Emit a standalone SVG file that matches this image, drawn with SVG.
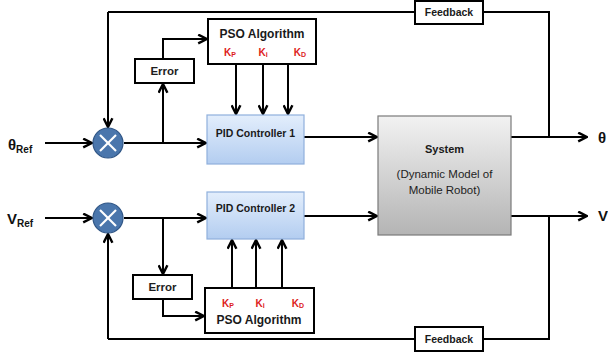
<svg xmlns="http://www.w3.org/2000/svg" width="608" height="353" viewBox="0 0 608 353">
<defs>
<linearGradient id="gBlue" x1="0" y1="0" x2="0" y2="1">
<stop offset="0" stop-color="#e3eefc"/>
<stop offset="1" stop-color="#b3cdf0"/>
</linearGradient>
<linearGradient id="gGray" x1="0" y1="0" x2="0" y2="1">
<stop offset="0" stop-color="#f2f2f2"/>
<stop offset="1" stop-color="#b4b4b4"/>
</linearGradient>
<marker id="arr" viewBox="0 0 10 10" refX="9" refY="5" markerWidth="5.5" markerHeight="5.5" markerUnits="strokeWidth" orient="auto">
<polyline points="1,1 9,5 1,9" fill="none" stroke="#000" stroke-width="2.2" stroke-linejoin="miter"/>
</marker>
</defs>
<style>
.ln{fill:none;stroke:#000;stroke-width:2}
.ar{fill:none;stroke:#000;stroke-width:2;marker-end:url(#arr)}
.box{fill:#fff;stroke:#000;stroke-width:2}
.pid{fill:url(#gBlue);stroke:#8fb0dc;stroke-width:1.2}
.sys{fill:url(#gGray);stroke:#7a7a7a;stroke-width:1.2}
.t{font-family:"Liberation Sans",Arial,sans-serif;font-weight:bold;fill:#1a1a1a;text-anchor:middle}
.n{font-family:"Liberation Sans",Arial,sans-serif;fill:#1e1e1e;text-anchor:middle;font-size:11.5px}
.k{font-family:"Liberation Sans",Arial,sans-serif;font-weight:bold;fill:#dd1c1c;font-size:10px;text-anchor:middle}
.big{font-family:"Liberation Sans",Arial,sans-serif;font-weight:bold;fill:#111;font-size:15px}
.sub{font-size:10px}
.sumc{fill:#4a76ac;stroke:#2f5585;stroke-width:1.2}
.x{stroke:#fff;stroke-width:2.2}
</style>

<g id="connectors">
<polyline class="ln" points="549,137 549,12 108,12"/>
<line class="ar" x1="108" y1="12" x2="108" y2="127"/>
<line class="ar" x1="45" y1="143" x2="92" y2="143"/>
<line class="ar" x1="124" y1="143" x2="206" y2="143"/>
<line class="ar" x1="163" y1="143" x2="163" y2="84"/>
<polyline class="ar" points="163,59 163,39 207,39"/>
<line class="ar" x1="236" y1="64" x2="236" y2="114"/>
<line class="ar" x1="263" y1="64" x2="263" y2="114"/>
<line class="ar" x1="288" y1="64" x2="288" y2="114"/>
<line class="ar" x1="304" y1="137" x2="377" y2="137"/>
<line class="ar" x1="511" y1="137" x2="587" y2="137"/>
<polyline class="ln" points="549,216 549,339 108,339"/>
<line class="ar" x1="108" y1="339" x2="108" y2="234"/>
<line class="ar" x1="45" y1="218" x2="92" y2="218"/>
<line class="ar" x1="124" y1="218" x2="206" y2="218"/>
<line class="ar" x1="163" y1="218" x2="163" y2="274"/>
<polyline class="ar" points="163,300 163,316 204,316"/>
<line class="ar" x1="232" y1="288" x2="232" y2="240"/>
<line class="ar" x1="256" y1="288" x2="256" y2="240"/>
<line class="ar" x1="282" y1="288" x2="282" y2="240"/>
<line class="ar" x1="304" y1="216" x2="377" y2="216"/>
<line class="ar" x1="511" y1="216" x2="587" y2="216"/>
</g>

<g id="thetaRef"><text class="big" x="8" y="150">θ<tspan class="sub" dy="3">Ref</tspan></text></g>
<g id="vRef"><text class="big" x="7" y="224">V<tspan class="sub" dy="3">Ref</tspan></text></g>
<g id="thetaOut"><text class="big" x="598" y="143">θ</text></g>
<g id="vOut"><text class="big" x="598" y="221">V</text></g>

<g id="sum1">
<circle class="sumc" cx="108" cy="143" r="15"/>
<line class="x" x1="100" y1="135" x2="116" y2="151"/>
<line class="x" x1="116" y1="135" x2="100" y2="151"/>
</g>
<g id="sum2">
<circle class="sumc" cx="108" cy="218" r="15"/>
<line class="x" x1="100" y1="210" x2="116" y2="226"/>
<line class="x" x1="116" y1="210" x2="100" y2="226"/>
</g>

<g id="feedback1">
<rect class="box" x="415" y="1" width="68" height="23"/>
<text class="t" x="449" y="16" font-size="10.5">Feedback</text>
</g>
<g id="feedback2">
<rect class="box" x="415" y="327" width="68" height="24"/>
<text class="t" x="449" y="343" font-size="10.5">Feedback</text>
</g>

<g id="error1">
<rect class="box" x="135" y="59" width="59" height="24"/>
<text class="n" x="164.5" y="75" font-size="10.5" font-weight="bold">Error</text>
</g>
<g id="error2">
<rect class="box" x="133" y="275" width="59" height="24"/>
<text class="n" x="162.5" y="291" font-size="10.5" font-weight="bold">Error</text>
</g>

<g id="pso1">
<rect class="box" x="208" y="19" width="108" height="45"/>
<text class="t" x="262" y="38" font-size="12">PSO Algorithm</text>
<text class="k" x="230" y="56">K<tspan font-size="7" dy="1">P</tspan></text>
<text class="k" x="263" y="56">K<tspan font-size="7" dy="1">i</tspan></text>
<text class="k" x="300" y="56">K<tspan font-size="7" dy="1">D</tspan></text>
</g>
<g id="pso2">
<rect class="box" x="205" y="288" width="109" height="45"/>
<text class="k" x="228" y="307">K<tspan font-size="7" dy="1">P</tspan></text>
<text class="k" x="260" y="307">K<tspan font-size="7" dy="1">i</tspan></text>
<text class="k" x="298" y="307">K<tspan font-size="7" dy="1">D</tspan></text>
<text class="t" x="259" y="324" font-size="12">PSO Algorithm</text>
</g>

<g id="pid1">
<rect class="pid" x="207" y="115" width="97" height="49"/>
<text class="t" x="255.5" y="137" font-size="10.5">PID Controller 1</text>
</g>
<g id="pid2">
<rect class="pid" x="207" y="192" width="97" height="47"/>
<text class="t" x="255.5" y="212" font-size="10.5">PID Controller 2</text>
</g>

<g id="system">
<rect class="sys" x="378" y="116" width="133" height="119"/>
<text class="t" x="444.5" y="153" font-size="11">System</text>
<text class="n" x="444.5" y="178">(Dynamic Model of</text>
<text class="n" x="444.5" y="194">Mobile Robot)</text>
</g>
</svg>
